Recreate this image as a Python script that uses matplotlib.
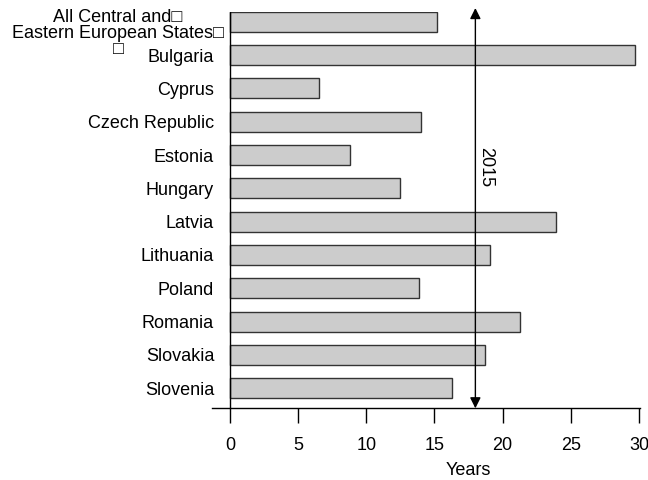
import matplotlib
matplotlib.use("Agg")
import matplotlib.pyplot as plt

plt.rcParams['font.family'] = ['Liberation Sans', 'DejaVu Sans']

countries = ['All Central and\u25a1\nEastern European States\u25a1\n\u25a1', 'Bulgaria', 'Cyprus',
             'Czech Republic', 'Estonia', 'Hungary', 'Latvia', 'Lithuania',
             'Poland', 'Romania', 'Slovakia', 'Slovenia']
years = [15.2, 29.7, 6.5, 14.0, 8.8, 12.5, 23.9, 19.1, 13.9, 21.3, 18.7, 16.3]
marker_year = 18.0
marker_label = '2015'
xticks = [0, 5, 10, 15, 20, 25, 30]

fig = plt.figure(figsize=(6.48, 4.8), dpi=100)
ax = fig.add_axes([0.3272, 0.1494, 0.6605, 0.8262])

pos = list(range(len(countries)))
ax.barh(pos, years, height=0.6, color='#cccccc', edgecolor='#333333', linewidth=1)
ax.axvline(0, color='black', lw=1)

ax.set_xlim(-1.32, 30.08)
ax.set_ylim(11.6, -0.3)

ax.set_yticks(pos[1:])
ax.set_yticklabels(countries[1:], fontsize=13)
ax.tick_params(axis='y', length=0, pad=-1.5)
# first label is multi-line, centred block
ax.text(-0.44, 0.36, countries[0], ha='right', va='center', multialignment='center',
        fontsize=13, linespacing=0.93, clip_on=False)

ax.set_xticks(xticks)
ax.tick_params(axis='x', direction='out', length=10.8, width=1, pad=10, labelsize=13)
ax.set_xlabel('Years', fontsize=13)
ax.xaxis.set_label_coords(0.598, -0.135)

for s in ['top', 'right', 'left']:
    ax.spines[s].set_visible(False)
ax.spines['bottom'].set_linewidth(1)

# double arrow marking the year
ax.annotate('', xy=(marker_year, -0.41), xytext=(marker_year, 11.6),
            arrowprops=dict(arrowstyle='<|-|>', color='black', lw=1,
                            mutation_scale=16, shrinkA=0, shrinkB=0),
            annotation_clip=False)
ax.text(marker_year + 0.12, 4.36, marker_label, rotation=270, ha='left', va='center', fontsize=13)

fig.savefig('out.png', dpi=100)
